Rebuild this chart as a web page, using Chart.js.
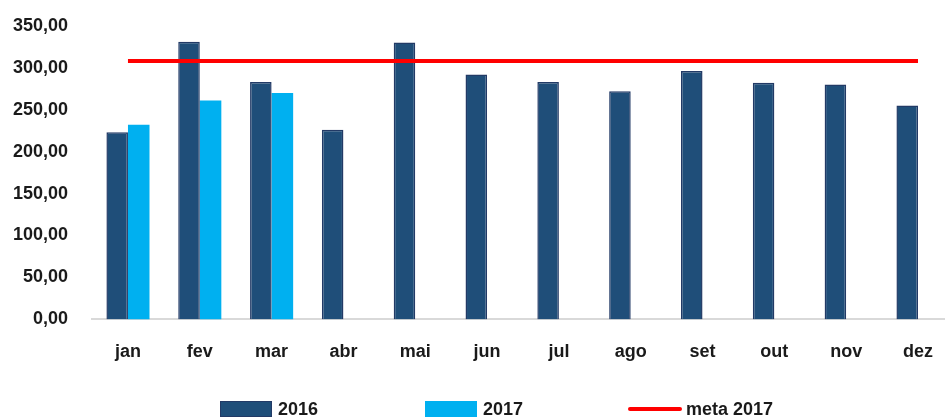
<!DOCTYPE html>
<html lang="pt">
<head>
    <meta charset="UTF-8">
    <title>2016 x 2017 x meta</title>
    <script src="https://cdn.jsdelivr.net/npm/chart.js"></script>
    <style>
        body { margin: 0; background: #fff; overflow: hidden; }
        .wrap { position: relative; left: -11px; top: -9px; width: 966px; height: 429px; }
    </style>
</head>
<body>
    <div class="wrap">
        <canvas id="grafico"></canvas>
    </div>

    <script>
        // Dados
        const meses = ['jan', 'fev', 'mar', 'abr', 'mai', 'jun', 'jul', 'ago', 'set', 'out', 'nov', 'dez'];
        const valores2016 = [223, 331, 283, 226, 330, 292, 283, 272, 296, 282, 280, 255];
        const valores2017 = [232, 261, 270];
        const meta2017 = [308, 308, 308, 308, 308, 308, 308, 308, 308, 308, 308, 308];

        const fonte = "'Liberation Sans', Arial, sans-serif";

        // Legenda desenhada à mão (espaçamento largo como no original)
        const legendaPlugin = {
            id: 'legendaManual',
            afterDraw(chart) {
                const ctx = chart.ctx;
                // posições em coordenadas da página (o canvas está deslocado 11px / 9px)
                const itens = [
                    { ds: chart.data.datasets[1], x: 231, tipo: 'box' },
                    { ds: chart.data.datasets[2], x: 436, tipo: 'box' },
                    { ds: chart.data.datasets[0], x: 639, tipo: 'line' }
                ];
                const y = 418;
                ctx.save();
                ctx.font = 'bold 18px ' + fonte;
                ctx.textBaseline = 'middle';
                itens.forEach(it => {
                    if (it.tipo === 'box') {
                        ctx.fillStyle = it.ds.backgroundColor;
                        ctx.fillRect(it.x, y - 8, 52, 16);
                        ctx.strokeStyle = it.ds.borderColor;
                        ctx.lineWidth = 1;
                        ctx.strokeRect(it.x + 0.5, y - 7.5, 51, 15);
                    } else {
                        ctx.strokeStyle = it.ds.borderColor;
                        ctx.lineWidth = 4;
                        ctx.lineCap = 'round';
                        ctx.beginPath();
                        ctx.moveTo(it.x + 2, y);
                        ctx.lineTo(it.x + 52, y);
                        ctx.stroke();
                    }
                    ctx.fillStyle = '#1a1a1a';
                    ctx.fillText(it.ds.label, it.x + 58, y + 1);
                });
                ctx.restore();
            }
        };

        new Chart(document.getElementById('grafico'), {
            data: {
                labels: meses,
                datasets: [
                    {
                        type: 'line',
                        label: 'meta 2017',
                        data: meta2017,
                        borderColor: '#FF0000',
                        borderWidth: 4,
                        pointRadius: 0,
                        fill: false,
                        order: 0
                    },
                    {
                        type: 'bar',
                        label: '2016',
                        data: valores2016,
                        backgroundColor: '#1F4E79',
                        borderColor: '#223A66',
                        borderWidth: 1.5,
                        order: 1
                    },
                    {
                        type: 'bar',
                        label: '2017',
                        data: valores2017,
                        backgroundColor: '#00B0F0',
                        borderColor: '#00B0F0',
                        borderWidth: 0,
                        order: 1
                    }
                ]
            },
            options: {
                responsive: true,
                maintainAspectRatio: false,
                animation: false,
                datasets: {
                    bar: { categoryPercentage: 0.6, barPercentage: 1 }
                },
                layout: { padding: { top: 4, left: 0, right: 0, bottom: 35 } },
                plugins: {
                    legend: { display: false },
                    tooltip: { enabled: false }
                },
                scales: {
                    x: {
                        grid: { display: false, drawTicks: false },
                        border: { color: '#D9D9D9', width: 2 },
                        ticks: {
                            color: '#1a1a1a',
                            padding: 22,
                            font: { family: fonte, size: 18, weight: 'bold' }
                        }
                    },
                    y: {
                        min: 0,
                        max: 350,
                        grid: { display: false, drawTicks: false },
                        border: { display: false },
                        ticks: {
                            stepSize: 50,
                            color: '#1a1a1a',
                            padding: 24,
                            font: { family: fonte, size: 18, weight: 'bold' },
                            callback: v => v.toFixed(2).replace('.', ',')
                        }
                    }
                }
            },
            plugins: [legendaPlugin]
        });
    </script>
</body>
</html>
